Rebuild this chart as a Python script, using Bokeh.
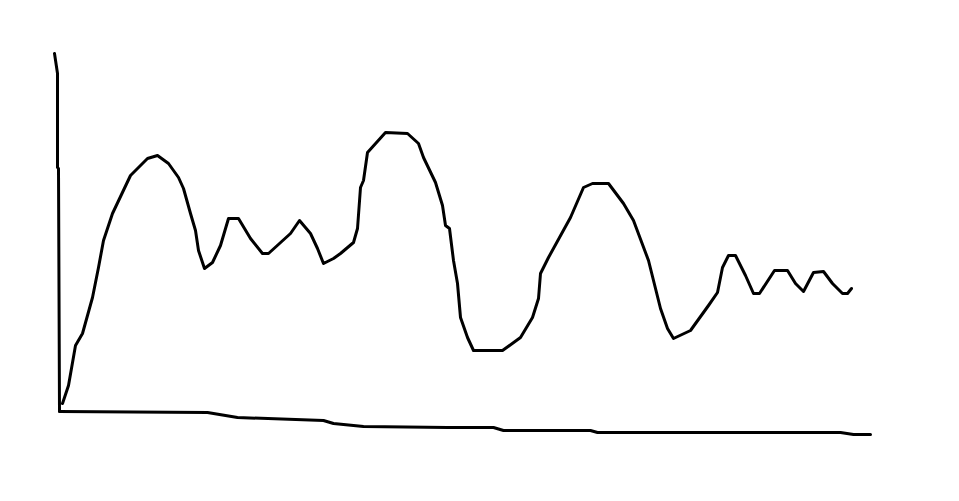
from bokeh.plotting import figure
from bokeh.models import Range1d
from bokeh.embed import file_html
from bokeh.resources import INLINE

# Hand-drawn curve: x position and height above the baseline
curve_x = [2, 8, 15, 22, 32, 38, 43, 52, 70, 87, 97, 108, 118, 123, 130, 135, 138, 144, 152, 160,
           168, 178, 190, 202, 208, 230, 239, 250, 257, 263, 273, 280, 293, 297, 300, 303, 307, 325, 347, 358,
           363, 375, 382, 385, 389, 393, 397, 400, 407, 413, 442, 460, 472, 478, 480, 488, 510, 523, 532, 548,
           563, 573, 588, 600, 607, 613, 630, 648, 657, 662, 668, 675, 685, 693, 699, 714, 727, 735, 743, 753,
           763, 772, 782, 787, 791]
curve_y = [7, 25, 65, 77, 113, 143, 170, 197, 235, 252, 255, 247, 233, 222, 197, 180, 160, 142, 148, 165,
           192, 192, 172, 157, 157, 177, 190, 177, 162, 147, 152, 157, 168, 182, 223, 230, 258, 278, 277, 267,
           253, 228, 205, 185, 182, 150, 127, 93, 73, 60, 60, 73, 93, 112, 137, 153, 193, 223, 227, 227,
           207, 190, 150, 102, 82, 72, 80, 105, 118, 143, 155, 155, 135, 117, 117, 140, 140, 127, 119, 138,
           139, 127, 117, 117, 122]

# Hand-drawn vertical axis
yaxis_x = [-6, -3, -3, -2, -1]
yaxis_y = [357, 337, 243, 242, -1]

# Hand-drawn horizontal axis
xaxis_x = [-1, 147, 177, 263, 273, 303, 387, 433, 443, 530, 537, 780, 793, 810]
xaxis_y = [-1, -2, -7, -10, -13, -16, -17, -17, -20, -20, -22, -22, -24, -24]

p = figure(width=943, height=485, output_backend="svg", toolbar_location=None,
           x_range=Range1d(-60, 883), y_range=Range1d(-75, 410), min_border=0)
p.axis.visible = False
p.xgrid.visible = False
p.ygrid.visible = False
p.outline_line_color = None
p.background_fill_color = "white"
p.border_fill_color = "white"

p.line(yaxis_x, yaxis_y, line_color="black", line_width=3, line_join="round", line_cap="round")
p.line(xaxis_x, xaxis_y, line_color="black", line_width=3, line_join="round", line_cap="round")
p.line(curve_x, curve_y, line_color="black", line_width=3, line_join="round", line_cap="round")

open("out.html", "w").write(file_html(p, INLINE))
